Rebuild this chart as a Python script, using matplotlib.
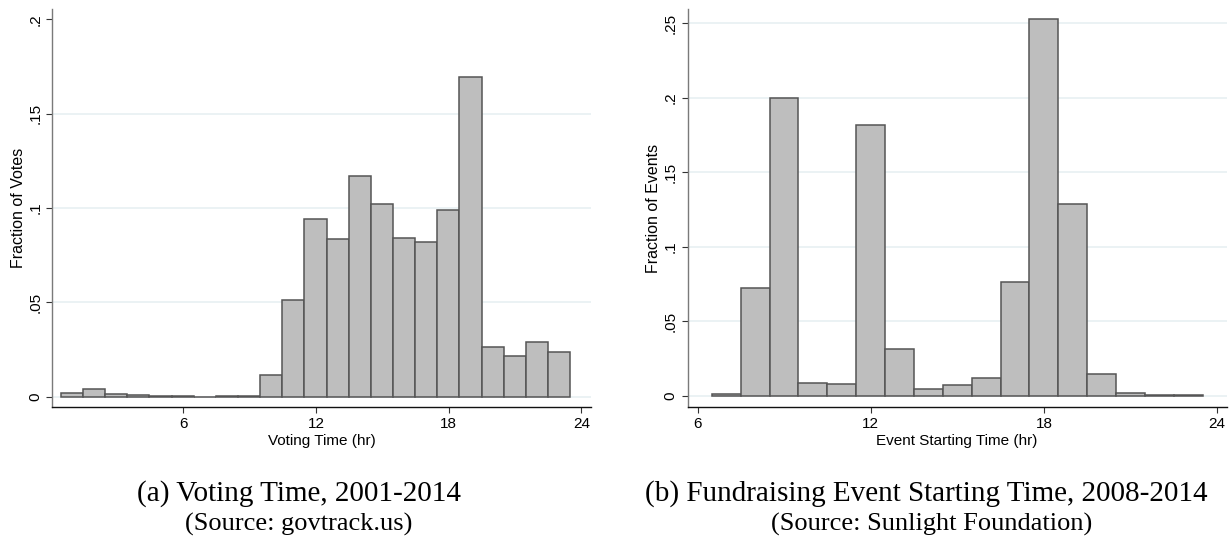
import matplotlib
matplotlib.use("Agg")
import matplotlib.pyplot as plt
import numpy as np

# (a) voting time histogram, 1-hour bins
vote_bin_start = 0.46
vote_bin_width = 1.0013
vote_fraction = [0.0019, 0.0040, 0.0013, 0.0008, 0.0004, 0.0004, 0.0, 0.0002,
                 0.0004, 0.0113, 0.0511, 0.0942, 0.0834, 0.1169, 0.1022, 0.0838,
                 0.0817, 0.0988, 0.1694, 0.0265, 0.0216, 0.0288, 0.0235]

# (b) fundraising event starting time histogram
event_bin_start = 6.49
event_bin_width = 1.0006
event_fraction = [0.0013, 0.0723, 0.1996, 0.0085, 0.0078, 0.1817, 0.0317, 0.0045,
                  0.0071, 0.0123, 0.0763, 0.2529, 0.1288, 0.0147, 0.0018, 0.0004,
                  0.0004]

x_ticks = [6, 12, 18, 24]
vote_yticks = [0, 0.05, 0.1, 0.15, 0.2]
event_yticks = [0, 0.05, 0.1, 0.15, 0.2, 0.25]
vote_grid = [0, 0.05, 0.1, 0.15]
event_grid = [0, 0.05, 0.1, 0.15, 0.2, 0.25]

SANS = "Liberation Sans"
SERIF = "Liberation Serif"
BAR_FILL = "#bebebe"
BAR_EDGE = "#555555"
GRID = "#e8f0f2"


def stata_label(v):
    if v == 0:
        return "0"
    return ("%g" % v).lstrip("0")


def draw_hist(ax, start, width, values, xlim, ylim, yticks, grid, xlabel, ylabel):
    lefts = start + np.arange(len(values)) * width
    for g in grid:
        ax.axhline(g, color=GRID, linewidth=1.2, zorder=0)
    ax.bar(lefts, values, width=width, align="edge", color=BAR_FILL,
           edgecolor=BAR_EDGE, linewidth=1.1, zorder=2)
    ax.set_xlim(*xlim)
    ax.set_ylim(*ylim)
    ax.set_xticks(x_ticks)
    ax.set_xticklabels([str(t) for t in x_ticks], fontsize=11, family=SANS)
    ax.set_yticks(yticks)
    ax.set_yticklabels([stata_label(t) for t in yticks], fontsize=11, family=SANS,
                       rotation=90, va="center")
    ax.tick_params(axis="both", direction="out", length=4.3, width=0.8,
                   color="#333333", pad=3)
    for side in ("top", "right"):
        ax.spines[side].set_visible(False)
    ax.spines["left"].set_color("#7a7a7a")
    ax.spines["left"].set_linewidth(1.0)
    ax.spines["bottom"].set_color("#111111")
    ax.spines["bottom"].set_linewidth(1.0)
    ax.set_xlabel(xlabel, fontsize=11, family=SANS, labelpad=2)
    ax.set_ylabel(ylabel, fontsize=11.5, family=SANS, labelpad=1.5)


fig = plt.figure(figsize=(12.3, 5.42), dpi=100)
ax1 = fig.add_axes([0.0425, 0.2496, 0.4377, 0.7332])
ax2 = fig.add_axes([0.5591, 0.2496, 0.4382, 0.7332])

draw_hist(ax1, vote_bin_start, vote_bin_width, vote_fraction,
          (0.075, 24.42), (-0.0054, 0.2053), vote_yticks, vote_grid,
          "Voting Time (hr)", "Fraction of Votes")
draw_hist(ax2, event_bin_start, event_bin_width, event_fraction,
          (5.653, 24.33), (-0.0072, 0.2594), event_yticks, event_grid,
          "Event Starting Time (hr)", "Fraction of Events")

fig.text(299 / 1230, 1 - 494 / 542, "(a) Voting Time, 2001-2014",
         ha="center", va="center", fontsize=21, family=SERIF)
fig.text(299 / 1230, 1 - 524 / 542, "(Source: govtrack.us)",
         ha="center", va="center", fontsize=19, family=SERIF)
fig.text(926 / 1230, 1 - 494 / 542, "(b) Fundraising Event Starting Time, 2008-2014",
         ha="center", va="center", fontsize=21, family=SERIF)
fig.text(932 / 1230, 1 - 524 / 542, "(Source: Sunlight Foundation)",
         ha="center", va="center", fontsize=19, family=SERIF)

fig.savefig("out.png", dpi=100)
